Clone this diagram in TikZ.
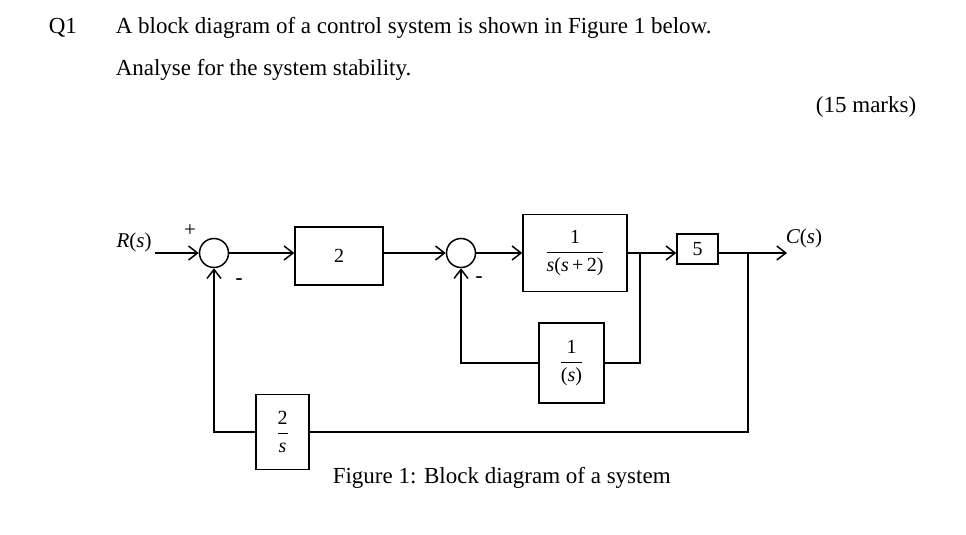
\documentclass[tikz,border=0pt]{standalone}
\usepackage{fontspec}
\setmainfont{Liberation Serif}
\usetikzlibrary{arrows.meta}
\begin{document}
\begin{tikzpicture}[x=1pt,y=-1pt,line width=1.5pt,
  arr/.style={-{Straight Barb[length=9pt,width=14pt,line width=1.5pt]}},
  blk/.style={draw,rectangle,inner sep=0pt,font=\fontsize{20}{24}\selectfont},
  sumc/.style={draw,circle,minimum size=29pt,inner sep=0pt},
  txt/.style={inner sep=0pt,font=\fontsize{23}{27}\selectfont},
  lbl/.style={inner sep=0pt,font=\fontsize{21}{24}\selectfont}]
\useasboundingbox (0,0) rectangle (966,535);
% header text
\node[txt,anchor=base west] (q) at (48,34) {Q1};
\node[txt,anchor=base west] (l1) at (115,34) {A block diagram of a control system is shown in Figure 1 below.};
\node[txt,anchor=base west] (l2) at (115,75) {Analyse for the system stability.};
\node[txt,anchor=base east] (mk) at (917,112) {(15 marks)};
% blocks
\node[sumc] (s1) at (214,253) {};
\node[blk,minimum width=88pt,minimum height=58pt] (b2) at (339,256) {2};
\node[sumc] (s2) at (461,253) {};
\node[blk,minimum width=104pt,minimum height=77pt] (G) at (575,253) {$\displaystyle\frac{\mbox{1}}{\mbox{\itshape s\upshape(\itshape s\upshape\,+\,2)}}$};
\node[blk,minimum width=41pt,minimum height=30pt] (b5) at (697.5,249) {5};
\node[blk,minimum width=65pt,minimum height=80pt] (H) at (571.5,363) {$\displaystyle\frac{\mbox{1}}{\mbox{(\itshape s\upshape)}}$};
\node[blk,minimum width=53pt,minimum height=75pt] (F) at (282.5,432) {$\displaystyle\frac{\mbox{2}}{\mbox{\itshape s}}$};
% coordinates
\coordinate (in) at (155,253);
\coordinate (out) at (787,253);
\coordinate (p1) at (640,253);
\coordinate (p2) at (748,253);
% connectors
\draw[arr] (in) -- (s1.west);
\draw[arr] (s1.east) -- (b2.west |- s1.east);
\draw[arr] (b2.east |- s2.west) -- (s2.west);
\draw[arr] (s2.east) -- (G.west);
\draw[arr] (G.east) -- (b5.west |- G.east);
\draw[arr] (b5.east |- out) -- (out);
\draw (p1) |- (H.east);
\draw[arr] (H.west) -| (s2.south);
\draw (p2) |- (F.east);
\draw[arr] (F.west) -| (s1.south);
% labels
\node[lbl] (rl) at (134,242) {\itshape R\upshape(\itshape s\upshape)};
\node[lbl] (cl) at (804,238) {\itshape C\upshape(\itshape s\upshape)};
\node[lbl] (pl) at (190,231) {+};
\node[lbl] (m1) at (239,282) {\textbf{-}};
\node[lbl] (m2) at (479,280) {\textbf{-}};
\node[txt,anchor=west] (cap) at (332,478) {Figure 1: Block diagram of a system};
\end{tikzpicture}
\end{document}
